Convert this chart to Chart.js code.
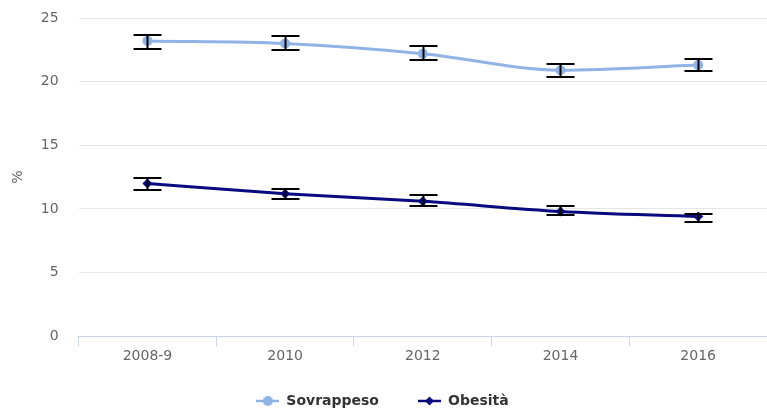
<!DOCTYPE html>
<html>
<head>
<meta charset="utf-8">
<script src="https://cdn.jsdelivr.net/npm/chart.js@4/dist/chart.umd.min.js"></script>
<style>
  html, body { margin: 0; padding: 0; background: #fff; overflow: hidden; }
  #wrap { width: 767px; height: 410px; }
</style>
</head>
<body>
<div id="wrap"><canvas id="chart"></canvas></div>
<script>
const categories = ["2008-9", "2010", "2012", "2014", "2016"];

const sovrappeso = [23.2, 23.0, 22.2, 20.9, 21.3];
const sovrappesoLow = [22.6, 22.5, 21.7, 20.4, 20.8];
const sovrappesoHigh = [23.7, 23.6, 22.8, 21.4, 21.8];

const obesita = [12.0, 11.2, 10.6, 9.8, 9.4];
const obesitaLow = [11.5, 10.8, 10.2, 9.5, 9.0];
const obesitaHigh = [12.4, 11.6, 11.1, 10.2, 9.6];

const yTicks = [0, 5, 10, 15, 20, 25];

const FONT = "'DejaVu Sans', sans-serif";

function legendIcon(color, shape) {
    const c = document.createElement("canvas");
    c.width = 23;
    c.height = 12;
    const g = c.getContext("2d");
    g.strokeStyle = color;
    g.fillStyle = color;
    g.lineWidth = 2.5;
    g.beginPath();
    g.moveTo(0, 6);
    g.lineTo(23, 6);
    g.stroke();
    g.beginPath();
    if (shape === "circle") {
        g.arc(11.5, 6, 5, 0, Math.PI * 2);
    } else {
        g.moveTo(11.5, 1.5);
        g.lineTo(16, 6);
        g.lineTo(11.5, 10.5);
        g.lineTo(7, 6);
        g.closePath();
    }
    g.fill();
    return c;
}

// draws the confidence interval whiskers on top of each series
const errorBars = {
    id: "errorBars",
    afterDatasetsDraw(chart) {
        const { ctx, scales } = chart;
        const x = scales.x;
        const y = scales.y;
        ctx.save();
        ctx.strokeStyle = "#000";
        ctx.lineWidth = 2;
        chart.data.datasets.forEach((ds) => {
            ds.low.forEach((lo, i) => {
                const px = Math.round(x.getPixelForValue(i)) + 0.5;
                const yl = Math.round(y.getPixelForValue(lo));
                const yh = Math.round(y.getPixelForValue(ds.high[i]));
                ctx.beginPath();
                ctx.moveTo(px, yl);
                ctx.lineTo(px, yh);
                ctx.moveTo(px - 14, yl);
                ctx.lineTo(px + 14, yl);
                ctx.moveTo(px - 14, yh);
                ctx.lineTo(px + 14, yh);
                ctx.stroke();
            });
        });
        ctx.restore();
    },
};

// pull the legend row a bit closer to the axis labels
const legendShift = {
    id: "legendShift",
    afterLayout(chart) {
        const lg = chart.legend;
        lg.top -= 12;
        lg.bottom -= 12;
        lg.left -= 6;
        lg.right -= 6;
    },
};

new Chart(document.getElementById("chart"), {
    type: "line",
    data: {
        labels: categories,
        datasets: [
            {
                label: "Sovrappeso",
                data: sovrappeso,
                low: sovrappesoLow,
                high: sovrappesoHigh,
                borderColor: "#90b4e6",
                backgroundColor: "#90b4e6",
                borderWidth: 3,
                pointStyle: "circle",
                pointRadius: 5,
                pointBorderWidth: 0,
                cubicInterpolationMode: "monotone",
                icon: legendIcon("#90b4e6", "circle"),
            },
            {
                label: "Obesità",
                data: obesita,
                low: obesitaLow,
                high: obesitaHigh,
                borderColor: "#0a0a80",
                backgroundColor: "#0a0a80",
                borderWidth: 3,
                pointStyle: "rectRot",
                pointRadius: 5,
                pointBorderWidth: 0,
                cubicInterpolationMode: "monotone",
                icon: legendIcon("#0a0a80", "diamond"),
            },
        ],
    },
    options: {
        responsive: true,
        maintainAspectRatio: false,
        animation: false,
        layout: { autoPadding: false, padding: { top: 0, right: 0, left: 10, bottom: -20 } },
        scales: {
            x: {
                offset: true,
                grid: {
                    offset: true,
                    drawOnChartArea: false,
                    color: "#ccd6eb",
                    tickLength: 10,
                },
                border: { color: "#ccd6eb", width: 1 },
                ticks: {
                    color: "#666",
                    font: { family: FONT, size: 14 },
                    padding: 2,
                },
            },
            y: {
                min: 0,
                max: 25,
                afterBuildTicks: (axis) => {
                    axis.ticks = yTicks.map((v) => ({ value: v }));
                },
                afterFit: (axis) => {
                    axis.paddingTop = 18;
                    axis.paddingBottom = 8;
                },
                grid: { color: "#e6e6e6", drawTicks: false },
                border: { display: false },
                ticks: {
                    color: "#666",
                    font: { family: FONT, size: 14 },
                    padding: 20,
                },
                title: {
                    display: true,
                    text: "%",
                    color: "#666",
                    font: { family: FONT, size: 14 },
                    padding: { top: 0, bottom: -6 },
                },
            },
        },
        plugins: {
            legend: {
                position: "bottom",
                labels: {
                    usePointStyle: true,
                    pointStyleWidth: 23,
                    color: "#333",
                    font: { family: FONT, size: 14, weight: "bold" },
                    padding: 39,
                    generateLabels: (chart) =>
                        chart.data.datasets.map((ds, i) => ({
                            text: ds.label,
                            pointStyle: ds.icon,
                            fillStyle: ds.borderColor,
                            strokeStyle: ds.borderColor,
                            fontColor: "#333",
                            datasetIndex: i,
                            hidden: false,
                        })),
                },
            },
            tooltip: { enabled: false },
        },
    },
    plugins: [errorBars, legendShift],
});
</script>
</body>
</html>
